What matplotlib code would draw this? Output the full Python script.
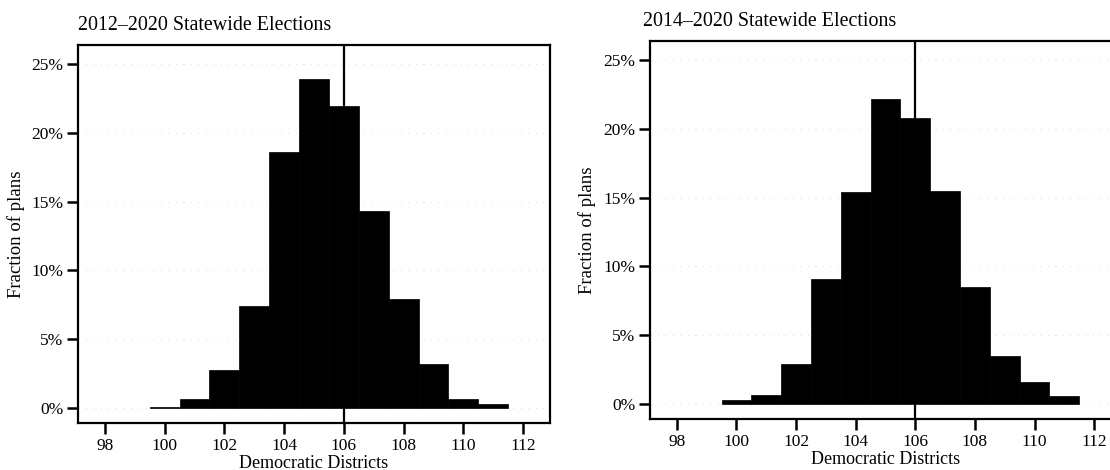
import matplotlib
matplotlib.use("Agg")
import matplotlib.pyplot as plt
from matplotlib.ticker import FuncFormatter

plt.rcParams['font.family'] = ['Liberation Serif', 'DejaVu Serif']

districts = [100, 101, 102, 103, 104, 105, 106, 107, 108, 109, 110, 111]
frac_2012 = [0.1, 0.65, 2.75, 7.4, 18.6, 23.9, 22.0, 14.3, 7.95, 3.2, 0.63, 0.3]
frac_2014 = [0.25, 0.65, 2.9, 9.05, 15.4, 22.2, 20.8, 15.5, 8.5, 3.45, 1.6, 0.6]
titles = ["2012\u20132020 Statewide Elections", "2014\u20132020 Statewide Elections"]
enacted = 106
xticks = [98, 100, 102, 104, 106, 108, 110, 112]
yticks = [0, 5, 10, 15, 20, 25]

fig = plt.figure(figsize=(11.1, 4.7), dpi=100)
ax1 = fig.add_axes([0.0703, 0.100, 0.4252, 0.8040])
ax2 = fig.add_axes([0.5856, 0.1085, 0.4243, 0.8043])

for ax, vals, title, tx in [(ax1, frac_2012, titles[0], 0.0),
                            (ax2, frac_2014, titles[1], -0.015)]:
    ax.bar(districts, vals, width=1.0, color='black', edgecolor='black', linewidth=0.5, zorder=2)
    ax.axvline(enacted, color='black', linewidth=1.6, zorder=3)
    ax.set_xlim(97.1, 112.9)
    ax.set_ylim(-1.1, 26.4)
    ax.set_xticks(xticks)
    ax.set_yticks(yticks)
    ax.yaxis.set_major_formatter(FuncFormatter(lambda v, p: f"{v:.0f}%"))
    ax.tick_params(axis='both', direction='out', length=8, width=1.8, labelsize=12.5,
                   colors='black', pad=2.5)
    for s in ax.spines.values():
        s.set_linewidth(1.6)
    ax.grid(axis='y', color='0.8', linewidth=0.6, linestyle=(0, (1, 8)), zorder=0)
    ax.set_xlabel("Democratic Districts", fontsize=13, labelpad=1)
    ax.set_ylabel("Fraction of plans", fontsize=13.5, labelpad=5)
    ax.set_title(title, loc='left', fontsize=14.4, pad=11, x=tx)

fig.savefig("out.png", dpi=100)
